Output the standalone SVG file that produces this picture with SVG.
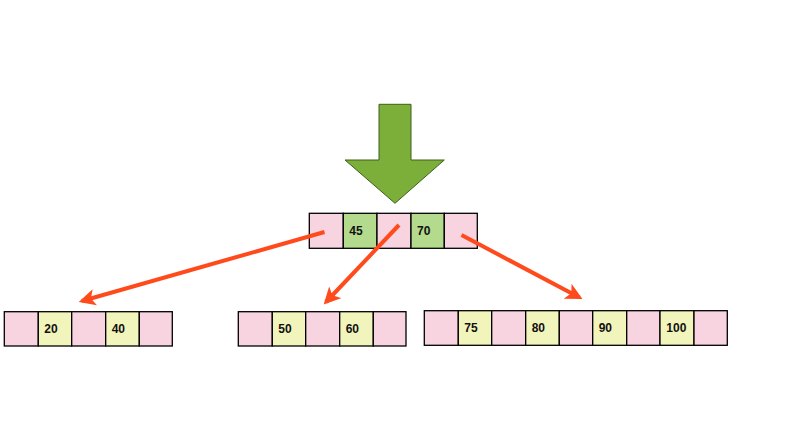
<svg xmlns="http://www.w3.org/2000/svg" width="787" height="431" viewBox="0 0 787 431">
<style>
.p{fill:#F8D3E0;stroke:#000;stroke-width:1.3}
.y{fill:#F2F5BB;stroke:#000;stroke-width:1.3}
.g{fill:#B3DA8D;stroke:#000;stroke-width:1.3}
.t{font-family:"Liberation Sans",Arial,sans-serif;font-size:12px;font-weight:bold;fill:#111}
.c{stroke:#FF4A1C;stroke-width:4;fill:none;marker-end:url(#ah)}
</style>
<defs>
<marker id="ah" viewBox="0 0 10 10" refX="8" refY="5" markerWidth="4.2" markerHeight="4.2" orient="auto" markerUnits="strokeWidth">
<path d="M0,0 L10,5 L0,10 L2.5,5 Z" fill="#FF4A1C"/>
</marker>
</defs>
<rect width="787" height="431" fill="#fff"/>
<g id="insert-arrow">
<polygon points="379,104.3 411,104.3 411,160 444.3,160 395,203.3 345,160 379,160" fill="#7CAF3A" stroke="#3F5F1A" stroke-width="1"/>
</g>
<g id="root">
<rect class="p" x="309.3" y="213.3" width="34" height="35"/>
<rect class="g" x="343.3" y="213.3" width="33.7" height="35"/>
<rect class="p" x="377" y="213.3" width="34" height="35"/>
<rect class="g" x="411" y="213.3" width="33.3" height="35"/>
<rect class="p" x="444.3" y="213.3" width="33" height="35"/>
<text class="t" x="349.3" y="235.3">45</text>
<text class="t" x="417" y="235.3">70</text>
</g>
<g id="left">
<rect class="p" x="4.3" y="311.7" width="34" height="34.3"/>
<rect class="y" x="38.3" y="311.7" width="33.4" height="34.3"/>
<rect class="p" x="71.7" y="311.7" width="34" height="34.3"/>
<rect class="y" x="105.7" y="311.7" width="33.6" height="34.3"/>
<rect class="p" x="139.3" y="311.7" width="33" height="34.3"/>
<text class="t" x="44.3" y="333.3">20</text>
<text class="t" x="111.7" y="333.3">40</text>
</g>
<g id="middle">
<rect class="p" x="238.3" y="311.7" width="34" height="34.3"/>
<rect class="y" x="272.3" y="311.7" width="33.4" height="34.3"/>
<rect class="p" x="305.7" y="311.7" width="34" height="34.3"/>
<rect class="y" x="339.7" y="311.7" width="33.6" height="34.3"/>
<rect class="p" x="373.3" y="311.7" width="32.7" height="34.3"/>
<text class="t" x="278.3" y="333.3">50</text>
<text class="t" x="345.7" y="333.3">60</text>
</g>
<g id="right">
<rect class="p" x="424.3" y="310.7" width="34" height="34.6"/>
<rect class="y" x="458.3" y="310.7" width="33.4" height="34.6"/>
<rect class="p" x="491.7" y="310.7" width="34" height="34.6"/>
<rect class="y" x="525.7" y="310.7" width="33.6" height="34.6"/>
<rect class="p" x="559.3" y="310.7" width="33.4" height="34.6"/>
<rect class="y" x="592.7" y="310.7" width="34" height="34.6"/>
<rect class="p" x="626.7" y="310.7" width="33.3" height="34.6"/>
<rect class="y" x="660" y="310.7" width="34" height="34.6"/>
<rect class="p" x="694" y="310.7" width="33.3" height="34.6"/>
<text class="t" x="464.3" y="332.3">75</text>
<text class="t" x="531.7" y="332.3">80</text>
<text class="t" x="598.7" y="332.3">90</text>
<text class="t" x="666.3" y="332.3">100</text>
</g>
<g id="connectors">
<line class="c" x1="324.5" y1="232" x2="82" y2="301"/>
<line class="c" x1="399" y1="225" x2="326" y2="302"/>
<line class="c" x1="461.5" y1="235" x2="579.5" y2="297.5"/>
</g>
</svg>
